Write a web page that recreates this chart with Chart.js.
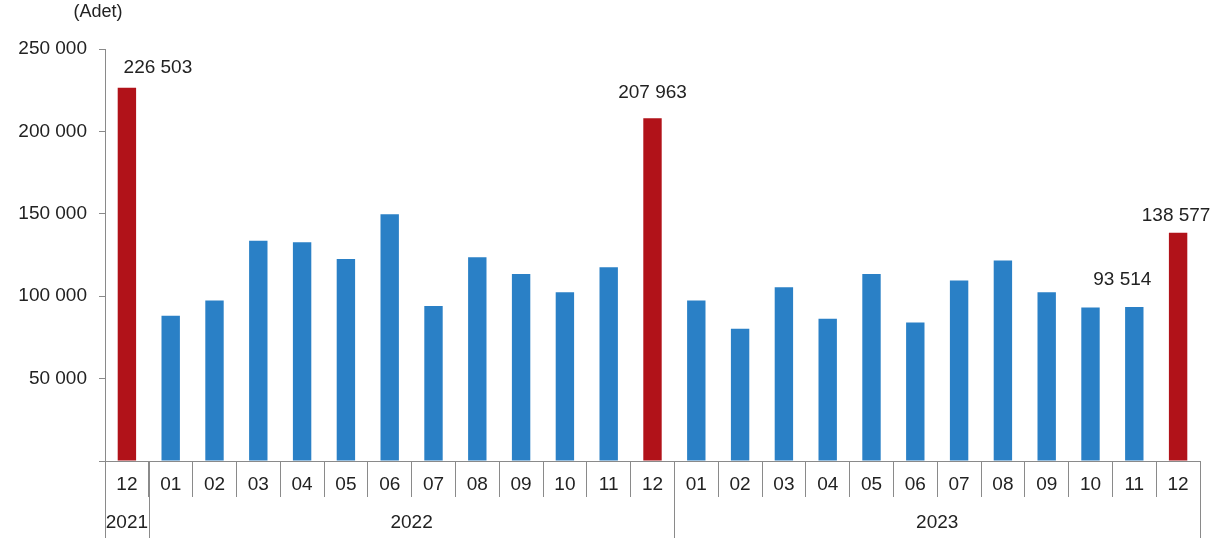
<!DOCTYPE html>
<html>
<head>
<meta charset="utf-8">
<script src="https://cdn.jsdelivr.net/npm/chart.js@4"></script>
<style>
  body { margin: 0; background: #fff; }
  #wrap { width: 1222px; height: 540px; }
</style>
</head>
<body>
<div id="wrap"><canvas id="grafico" width="1222" height="540"></canvas></div>
<script>
const months = ["12","01","02","03","04","05","06","07","08","09","10","11","12",
                "01","02","03","04","05","06","07","08","09","10","11","12"];
const years = ["2021","2022","2022","2022","2022","2022","2022","2022","2022","2022","2022","2022","2022",
               "2023","2023","2023","2023","2023","2023","2023","2023","2023","2023","2023","2023"];
const values = [226503, 88100, 97400, 133700, 132800, 122600, 149800, 94100, 123600, 113500, 102400, 117500, 207963,
                97400, 80200, 105400, 86300, 113500, 84100, 109500, 121600, 102400, 93200, 93514, 138577];
const labelled = [0, 12, 23, 24];
const yTicks = [0, 50000, 100000, 150000, 200000, 250000];

const azul = "#2a80c6";
const vermelho = "#b11219";
const fonte = "'Liberation Sans', Arial, sans-serif";

function fmt(v) {
  return String(v).replace(/\B(?=(\d{3})+(?!\d))/g, " ");
}

// rotulos de valor + eixo de anos + (Adet)
const extras = {
  id: "extras",
  afterDraw(chart, args, opts) {
    const ctx = chart.ctx;
    const x = chart.scales.x;
    const y = chart.scales.y;
    const meta = chart.getDatasetMeta(0);
    ctx.save();
    ctx.fillStyle = "#222";
    ctx.font = "19px " + fonte;
    ctx.textAlign = "center";
    ctx.textBaseline = "middle";
    labelled.forEach(i => {
      const bar = meta.data[i];
      const off = opts.offsets[i] || [0, 20];
      ctx.fillText(fmt(values[i]), bar.x + off[0], bar.y - off[1]);
    });

    // grupos de anos
    const half = (x.getPixelForValue(1) - x.getPixelForValue(0)) / 2;
    const base = y.getPixelForValue(0);
    const groups = [];
    years.forEach((yr, i) => {
      if (!groups.length || groups[groups.length - 1].yr !== yr) groups.push({ yr, a: i, b: i });
      else groups[groups.length - 1].b = i;
    });
    ctx.strokeStyle = "#8a8a8a";
    ctx.lineWidth = 1;
    groups.forEach(g => {
      const l = x.getPixelForValue(g.a) - half;
      const r = x.getPixelForValue(g.b) + half;
      [l, r].forEach(px => {
        ctx.beginPath();
        ctx.moveTo(Math.round(px) + 0.5, base);
        ctx.lineTo(Math.round(px) + 0.5, base + 77);
        ctx.stroke();
      });
      ctx.fillText(g.yr, (l + r) / 2, base + 62);
    });

    ctx.font = "18px " + fonte;
    ctx.fillText("(Adet)", 98, 12);
    ctx.restore();
  }
};

const ctx = document.getElementById("grafico").getContext("2d");
const myChart = new Chart(ctx, {
  type: "bar",
  data: {
    labels: months,
    datasets: [{
      data: values,
      backgroundColor: months.map(m => m === "12" ? vermelho : azul),
      barPercentage: 0.42,
      categoryPercentage: 1,
    }],
  },
  plugins: [extras],
  options: {
    responsive: false,
    animation: false,
    layout: { padding: { top: 49, right: 22, left: 0, bottom: 0 } },
    plugins: {
      legend: { display: false },
      tooltip: { enabled: false },
      extras: {
        offsets: { 0: [31, 20], 12: [0, 26], 23: [-12, 27], 24: [-2, 17] }
      }
    },
    scales: {
      x: {
        afterFit(s) { s.height = 79; },
        grid: { offset: true, drawOnChartArea: false, drawTicks: true, tickLength: 36, color: "#8a8a8a" },
        border: { color: "#8a8a8a" },
        ticks: { color: "#222", font: { size: 19, family: fonte }, padding: -24, maxRotation: 0, autoSkip: false },
      },
      y: {
        min: 0,
        max: 250000,
        afterFit(s) { s.width = 105; },
        afterBuildTicks(s) { s.ticks = yTicks.map(v => ({ value: v })); },
        grid: { drawOnChartArea: false, drawTicks: true, tickLength: 6, color: "#8a8a8a" },
        border: { color: "#8a8a8a" },
        ticks: {
          color: "#222",
          font: { size: 19, family: fonte },
          padding: 12,
          callback: v => v === 0 ? "" : fmt(v),
        },
      },
    },
  },
});
</script>
</body>
</html>
